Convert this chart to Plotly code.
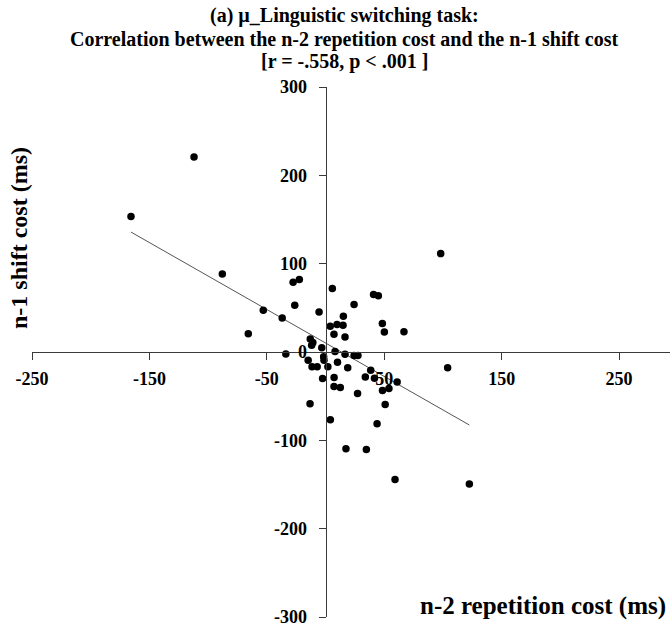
import numpy as np
import plotly.graph_objects as go

# n-2 repetition cost (ms) per participant
rep_cost = [
    -165.7, -112.0, -87.9, -65.8, -53.0, -36.9, -33.8, -27.6, -22.3, -26.2,
    -5.5, 5.8, 24.3, 40.9, 45.0, 15.2, 4.0, 9.8, 14.9, 48.4,
    50.1, 66.8, 7.2, 16.6, -13.0, -10.8, -11.8, -3.2, 8.1, 16.6,
    24.3, 27.6, -1.6, -1.3, -14.8, 10.2, -11.5, -7.1, 2.0, 18.9,
    38.5, 33.9, 41.7, -2.5, 7.3, 61.0, 54.0, 48.5, 7.2, 12.6,
    27.3, 50.8, -13.2, 4.1, 43.9, 17.4, 34.8, 59.2, 122.5, 98.1,
    104.0,
]
# n-1 shift cost (ms) per participant
shift_cost = [
    153.3, 220.8, 88.3, 20.8, 47.2, 38.5, -2.4, 78.9, 82.0, 52.9,
    45.3, 72.0, 53.7, 65.0, 63.6, 40.4, 29.1, 31.0, 30.2, 32.2,
    22.6, 22.8, 20.0, 17.0, 14.8, 10.8, 7.6, 4.8, 0.6, -2.6,
    -4.1, -4.1, -5.3, -9.4, -9.4, -11.6, -16.6, -16.6, -16.6, -17.9,
    -20.7, -28.3, -29.6, -30.1, -28.9, -34.0, -41.3, -43.5, -39.0, -40.3,
    -47.1, -59.4, -58.5, -76.6, -81.1, -109.6, -110.5, -144.2, -149.4, 111.4,
    -17.7,
]

x_tick_vals = [-250, -150, -50, 50, 150, 250]
x_tick_text = ["-250", "-150", "-50", "50", "150", "250"]
y_tick_vals = [-300, -200, -100, 0, 100, 200, 300]
y_tick_text = ["-300", "-200", "-100", "0", "100", "200", "300"]

title_lines = [
    "(a) \u00b5_Linguistic switching task:",
    "Correlation between the n-2 repetition cost and the n-1 shift cost",
    "[r = -.558, p < .001 ]",
]
x_title = "n-2 repetition cost (ms)"
y_title = "n-1 shift cost (ms)"

W, H = 670, 626
M_L, M_R, M_T, M_B = 32, 0, 87, 9
X_MIN = -250
X_MAX = X_MIN + (W - M_L - M_R) / 1.1741
Y_MIN, Y_MAX = -300, 300

FONT = "Liberation Serif"
AXIS_COLOR = "#3a3a3a"

# least-squares fit line across the observed range
xs = np.array(rep_cost)
ys = np.array(shift_cost)
slope, intercept = np.polyfit(xs, ys, 1)
fit_x = np.array([xs.min(), xs.max()])
fit_y = slope * fit_x + intercept

fig = go.Figure()
fig.add_trace(go.Scatter(
    x=fit_x, y=fit_y, mode="lines",
    line=dict(color="#555555", width=1),
    hoverinfo="skip", showlegend=False,
))
fig.add_trace(go.Scatter(
    x=rep_cost, y=shift_cost, mode="markers",
    marker=dict(color="black", size=7.5),
    showlegend=False,
))

y_cross = (0 - X_MIN) / (X_MAX - X_MIN)

fig.update_layout(
    width=W, height=H,
    margin=dict(l=M_L, r=M_R, t=M_T, b=M_B),
    paper_bgcolor="white", plot_bgcolor="white",
    font=dict(family=FONT, color="black"),
    xaxis=dict(
        range=[X_MIN, X_MAX], anchor="free", position=0.5,
        showgrid=False, zeroline=False,
        showline=True, linecolor=AXIS_COLOR, linewidth=1,
        ticks="outside", ticklen=7, tickcolor=AXIS_COLOR,
        tickvals=x_tick_vals, ticktext=x_tick_text,
        tickfont=dict(family=FONT, size=18, weight="bold"),
        ticklabelstandoff=3, ticklabeloverflow="allow",
    ),
    yaxis=dict(
        range=[Y_MIN, Y_MAX], anchor="free", position=y_cross,
        showgrid=False, zeroline=False,
        showline=True, linecolor=AXIS_COLOR, linewidth=1,
        ticks="outside", ticklen=7, tickcolor=AXIS_COLOR,
        tickvals=y_tick_vals, ticktext=y_tick_text,
        tickfont=dict(family=FONT, size=18, weight="bold"),
        ticklabelstandoff=8, ticklabeloverflow="allow",
    ),
)

plot_h = H - M_T - M_B
plot_w = W - M_L - M_R


def py_to_paper(py):
    return (H - M_B - py) / plot_h


def px_to_paper(px):
    return (px - M_L) / plot_w


for text, py in zip(title_lines, [15, 39, 62]):
    fig.add_annotation(
        text=text, xref="paper", yref="paper",
        x=px_to_paper(344), y=py_to_paper(py),
        xanchor="center", yanchor="middle", showarrow=False,
        font=dict(family=FONT, size=20, weight="bold", color="black"),
    )

fig.add_annotation(
    text=y_title, xref="paper", yref="paper",
    x=px_to_paper(19), y=py_to_paper(238),
    xanchor="center", yanchor="middle", textangle=-90, showarrow=False,
    font=dict(family=FONT, size=24, weight="bold", color="black"),
)
fig.add_annotation(
    text=x_title, xref="paper", yref="paper",
    x=px_to_paper(543), y=py_to_paper(606),
    xanchor="center", yanchor="middle", showarrow=False,
    font=dict(family=FONT, size=25, weight="bold", color="black"),
)

fig.write_html("out.html")
